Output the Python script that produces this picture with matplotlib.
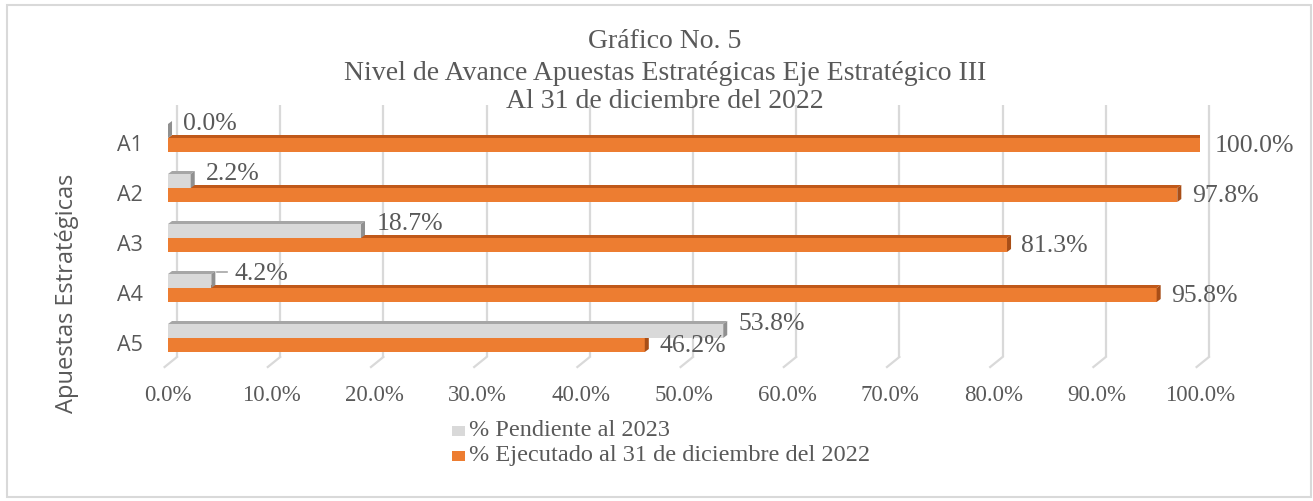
import matplotlib
import matplotlib.pyplot as plt
from matplotlib.patches import Polygon, Rectangle

matplotlib.use("Agg")

# Chart data
categories = ["A1", "A2", "A3", "A4", "A5"]
pendiente = [0.0, 2.2, 18.7, 4.2, 53.8]
ejecutado = [100.0, 97.8, 81.3, 95.8, 46.2]
x_ticks = [0, 10, 20, 30, 40, 50, 60, 70, 80, 90, 100]
legend_labels = ["% Pendiente al 2023", "% Ejecutado al 31 de diciembre del 2022"]
title_lines = [
    "Gráfico No. 5",
    "Nivel de Avance Apuestas Estratégicas Eje Estratégico III",
    "Al 31 de diciembre del 2022",
]

W, H = 1313, 501
TEXT = "#595959"
SERIF = "Liberation Serif"
SANS = "Open Sans"

# face colours: front, top, right side
GRAY = ("#D9D9D9", "#A6A6A6", "#909090")
ORANGE = ("#ED7D31", "#C0591A", "#A84E17")

# 3D depth of the bars (data units)
DX, DY = 0.39, 0.06


def bar3d(ax, width, y_top, height, faces):
    front, top, side = faces
    ax.add_patch(Rectangle((0, y_top), width, height, facecolor=front,
                           edgecolor="none", zorder=3))
    ax.add_patch(Polygon([(0, y_top), (width, y_top), (width + DX, y_top - DY),
                          (DX, y_top - DY)], closed=True, facecolor=top,
                         edgecolor="none", zorder=3))
    ax.add_patch(Polygon([(width, y_top), (width + DX, y_top - DY),
                          (width + DX, y_top + height - DY), (width, y_top + height)],
                         closed=True, facecolor=side, edgecolor="none", zorder=3))


fig = plt.figure(figsize=(W / 100, H / 100), dpi=100)

# frame round the chart
fig.patches.append(Rectangle((7 / W, 4 / H), 1304 / W, 492 / H, transform=fig.transFigure,
                             fill=False, edgecolor="#D9D9D9", linewidth=1.5))

# axes: 0% at x=168px, 100% at x=1200px, rows 50px apart starting at y=143px
ax = fig.add_axes([168 / W, 1 - 357 / H, 1032 / W, 252 / H])
ax.set_xlim(0, 100)
ax.set_ylim(4.28, -0.76)
for s in ax.spines.values():
    s.set_visible(False)

# back-wall gridlines with their little floor foot
for v in x_ticks:
    gx = v + 0.87
    ax.plot([gx, gx], [-0.76, 4.28], color="#D9D9D9", lw=1.6, zorder=1,
            solid_capstyle="butt", clip_on=False)
    ax.plot([gx, gx - 1.2], [4.28, 4.48], color="#D9D9D9", lw=1.6, zorder=1,
            clip_on=False)

for i, (p, e) in enumerate(zip(pendiente, ejecutado)):
    bar3d(ax, e, i - 0.10, 0.28, ORANGE)
    bar3d(ax, p, i - 0.38, 0.28, GRAY)
    # data labels (A4's pending label was dragged right, with a leader line)
    gx = p + 1.5 if i != 3 else 6.4
    ax.text(gx, i - 0.39, f"{p:.1f}%", family=SERIF, fontsize=18.5, color=TEXT,
            ha="left", va="center", zorder=4)
    ax.text(e + 1.4, i + 0.06, f"{e:.1f}%", family=SERIF, fontsize=18.5, color=TEXT,
            ha="left", va="center", zorder=4)

ax.plot([4.75, 5.7], [2.58, 2.58], color="#A6A6A6", lw=1.2, zorder=4)

ax.set_xticks(x_ticks)
ax.set_xticklabels([f"{v:.1f}%" for v in x_ticks], family=SERIF, fontsize=16.5,
                   color=TEXT)
ax.set_yticks(range(len(categories)))
ax.set_yticklabels(categories, family=SANS, fontsize=15.5, color=TEXT)
ax.tick_params(axis="x", length=0, pad=20)
ax.tick_params(axis="y", length=0, pad=18)

fig.text(67 / W, 1 - 293 / H, "Apuestas Estratégicas", rotation=90, family=SANS,
         fontsize=17, color=TEXT, ha="center", va="center")

for line, y in zip(title_lines, [42, 73, 102]):
    fig.text(665 / W, 1 - y / H, line, family=SERIF, fontsize=20, color=TEXT,
             ha="center", va="center")

# legend, placed by hand
for lab, col, y in zip(legend_labels, [GRAY[0], ORANGE[0]], [431, 456]):
    fig.patches.append(Rectangle((452 / W, 1 - (y + 5) / H), 13 / W, 10 / H,
                                 transform=fig.transFigure, facecolor=col,
                                 edgecolor="none"))
    fig.text(469 / W, 1 - y / H, lab, family=SERIF, fontsize=17.5, color=TEXT,
             ha="left", va="center")

fig.savefig("out.png", dpi=100)
